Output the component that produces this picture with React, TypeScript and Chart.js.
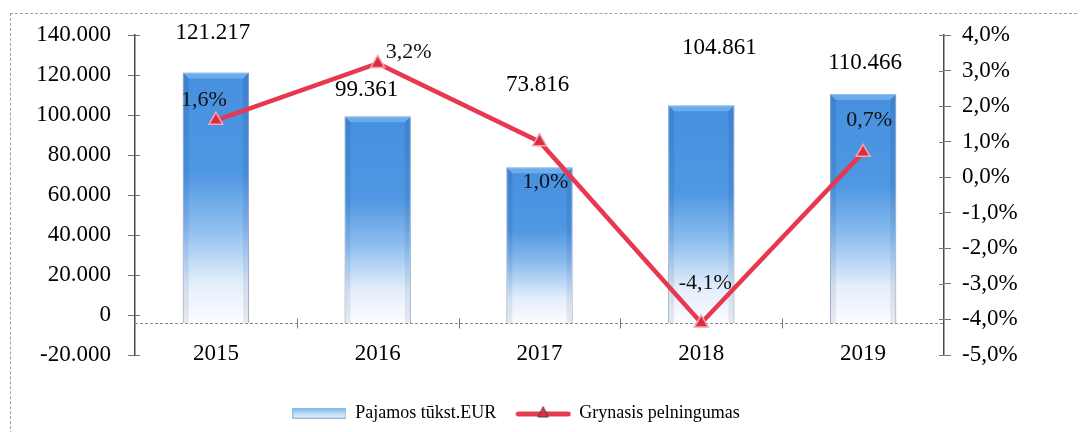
import React, { useEffect, useRef } from 'react';
import { Chart, registerables } from 'chart.js';

Chart.register(...registerables);

// ---- data ----
const years = ['2015', '2016', '2017', '2018', '2019'];
const revenue = [121217, 99361, 73816, 104861, 110466];
const netMargin = [1.6, 3.2, 1.0, -4.1, 0.7];
const seriesNames = ['Pajamos tūkst.EUR', 'Grynasis pelningumas'];
const leftAxis = { min: -20000, max: 140000, step: 20000 };
const rightAxis = { min: -5, max: 4, step: 1 };
const categoryAxisValue = -4000; // where the category axis crosses the value axis

// label nudges (px) relative to the mark
const barLabelNudge = [[-3, -40], [-11, -26], [-2, -82], [18, -57], [2, -31]];
const lineLabelNudge = [[-12, -20], [31, -11], [6, 41], [4, -40], [6, -32]];

const FONT = '"Liberation Serif", "DejaVu Serif", serif';

function fmtThousands(v: number): string {
  if (v === 0) return '0';
  const sign = v < 0 ? '-' : '';
  const a = Math.abs(Math.round(v));
  const th = Math.floor(a / 1000);
  const rest = a % 1000;
  return `${sign}${th}.${String(rest).padStart(3, '0')}`;
}
function fmtPct(v: number): string {
  const r = Math.round(v * 10) / 10;
  return (r === 0 ? 0 : r).toFixed(1).replace('.', ',') + '%';
}

function makeBarSwatch(): HTMLCanvasElement {
  const c = document.createElement('canvas');
  c.width = 54; c.height = 11;
  const g = c.getContext('2d')!;
  const gr = g.createLinearGradient(0, 0, 0, 11);
  gr.addColorStop(0, '#6fb0ee');
  gr.addColorStop(0.5, '#b9d8f5');
  gr.addColorStop(1, '#e9f2fc');
  g.fillStyle = gr;
  g.fillRect(0.5, 0.5, 53, 10);
  g.strokeStyle = '#9bbbe0';
  g.lineWidth = 1;
  g.strokeRect(0.5, 0.5, 53, 10);
  return c;
}
function makeLineSwatch(): HTMLCanvasElement {
  const c = document.createElement('canvas');
  c.width = 56; c.height = 14;
  const g = c.getContext('2d')!;
  g.strokeStyle = '#e8384f';
  g.lineWidth = 5;
  g.lineCap = 'round';
  g.beginPath();
  g.moveTo(3, 8); g.lineTo(53, 8);
  g.stroke();
  g.beginPath();
  g.moveTo(28, 1); g.lineTo(33, 11); g.lineTo(23, 11); g.closePath();
  g.fillStyle = '#e02f45';
  g.fill();
  g.strokeStyle = '#444';
  g.lineWidth = 1;
  g.stroke();
  return c;
}

export default function App() {
  const ref = useRef<HTMLCanvasElement | null>(null);

  useEffect(() => {
    if (!ref.current) return;
    const barSwatch = makeBarSwatch();
    const lineSwatch = makeLineSwatch();

    const barFill = (ctx: any) => {
      const chart = ctx.chart;
      const { chartArea, scales } = chart;
      if (!chartArea || ctx.type !== 'data' || !scales.y) return '#4a93e0';
      const v = ctx.raw as number;
      const yTop = scales.y.getPixelForValue(v);
      const yBot = scales.y.getPixelForValue(categoryAxisValue);
      const gr = chart.ctx.createLinearGradient(0, yTop, 0, yBot);
      gr.addColorStop(0, '#4690df');
      gr.addColorStop(0.4, '#4f97e2');
      gr.addColorStop(0.62, '#8dbdee');
      gr.addColorStop(0.84, '#e3eefb');
      gr.addColorStop(1, '#fbfcff');
      return gr;
    };

    const baselinePlugin = {
      id: 'baseline',
      beforeDatasetsDraw(chart: any) {
        const { ctx, chartArea, scales } = chart;
        const y = Math.round(scales.y.getPixelForValue(categoryAxisValue)) + 0.5;
        ctx.save();
        ctx.strokeStyle = '#8a8a8a';
        ctx.lineWidth = 1;
        ctx.setLineDash([3, 2]);
        ctx.beginPath();
        ctx.moveTo(chartArea.left, y);
        ctx.lineTo(chartArea.right, y);
        ctx.stroke();
        ctx.setLineDash([]);
        ctx.strokeStyle = '#777';
        const n = years.length;
        for (let i = 0; i < n - 1; i++) {
          const x = Math.round((scales.x.getPixelForValue(i) + scales.x.getPixelForValue(i + 1)) / 2) + 0.5;
          ctx.beginPath();
          ctx.moveTo(x, y - 5);
          ctx.lineTo(x, y + 5);
          ctx.stroke();
        }
        scales.y.ticks.forEach((t: any) => {
          const yy = Math.round(scales.y.getPixelForValue(t.value)) + 0.5;
          ctx.beginPath();
          ctx.moveTo(chartArea.left, yy);
          ctx.lineTo(chartArea.left + 5, yy);
          ctx.stroke();
        });
        scales.y1.ticks.forEach((t: any) => {
          const yy = Math.round(scales.y1.getPixelForValue(t.value)) + 0.5;
          ctx.beginPath();
          ctx.moveTo(chartArea.right - 5, yy);
          ctx.lineTo(chartArea.right, yy);
          ctx.stroke();
        });
        ctx.restore();
      },
    };

    const bevelPlugin = {
      id: 'bevel',
      afterDatasetDraw(chart: any, args: any) {
        if (args.index !== 0) return;
        const { ctx } = chart;
        const meta = chart.getDatasetMeta(0);
        ctx.save();
        meta.data.forEach((el: any) => {
          const w = el.width;
          const l = el.x - w / 2;
          const r = el.x + w / 2;
          const t = el.y;
          const b = el.base;
          const bv = 6;
          ctx.beginPath();
          ctx.moveTo(l, t); ctx.lineTo(r, t); ctx.lineTo(r - bv, t + bv); ctx.lineTo(l + bv, t + bv); ctx.closePath();
          ctx.fillStyle = 'rgba(140,195,245,0.55)';
          ctx.fill();
          const sg = ctx.createLinearGradient(0, t, 0, b);
          sg.addColorStop(0, 'rgba(25,80,150,0.22)');
          sg.addColorStop(0.7, 'rgba(25,80,150,0.10)');
          sg.addColorStop(1, 'rgba(60,60,80,0.10)');
          ctx.fillStyle = sg;
          ctx.beginPath();
          ctx.moveTo(l, t); ctx.lineTo(l + bv, t + bv); ctx.lineTo(l + bv, b); ctx.lineTo(l, b); ctx.closePath();
          ctx.fill();
          ctx.beginPath();
          ctx.moveTo(r, t); ctx.lineTo(r - bv, t + bv); ctx.lineTo(r - bv, b); ctx.lineTo(r, b); ctx.closePath();
          ctx.fill();
        });
        ctx.restore();
      },
    };

    const labelPlugin = {
      id: 'valueLabels',
      afterDatasetsDraw(chart: any) {
        const { ctx } = chart;
        ctx.save();
        ctx.textAlign = 'center';
        ctx.textBaseline = 'middle';
        ctx.fillStyle = '#000';
        ctx.font = `23px ${FONT}`;
        chart.getDatasetMeta(0).data.forEach((el: any, i: number) => {
          const [dx, dy] = barLabelNudge[i];
          ctx.fillText(fmtThousands(revenue[i]), el.x + dx, el.y + dy);
        });
        ctx.font = `22px ${FONT}`;
        ctx.fillStyle = '#111';
        chart.getDatasetMeta(1).data.forEach((el: any, i: number) => {
          const [dx, dy] = lineLabelNudge[i];
          ctx.fillText(fmtPct(netMargin[i]), el.x + dx, el.y + dy);
        });
        ctx.restore();
      },
    };

    const chart = new Chart(ref.current, {
      type: 'bar',
      data: {
        labels: years,
        datasets: [
          {
            type: 'bar',
            label: seriesNames[0],
            data: revenue,
            yAxisID: 'y',
            base: categoryAxisValue,
            backgroundColor: barFill,
            borderColor: 'rgba(120,150,190,0.7)',
            borderWidth: 1,
            barPercentage: 0.41,
            categoryPercentage: 1,
            order: 2,
          } as any,
          {
            type: 'line',
            label: seriesNames[1],
            data: netMargin,
            yAxisID: 'y1',
            borderColor: '#e8384f',
            borderWidth: 4.5,
            pointStyle: 'triangle',
            pointRadius: 8,
            pointBackgroundColor: '#dd2c42',
            pointBorderColor: '#f2a3ab',
            pointBorderWidth: 1.5,
            tension: 0,
            order: 1,
          } as any,
        ],
      },
      options: {
        responsive: false,
        animation: false,
        layout: { padding: { top: 35, left: 0, right: 48, bottom: 0 } },
        plugins: {
          tooltip: { enabled: false },
          legend: {
            position: 'bottom',
            labels: {
              usePointStyle: true,
              pointStyleWidth: 54,
              color: '#000',
              padding: 20,
              font: { family: FONT, size: 18 },
              generateLabels: () => [
                { text: seriesNames[0], pointStyle: barSwatch, fillStyle: 'rgba(0,0,0,0)', strokeStyle: 'rgba(0,0,0,0)', lineWidth: 0, hidden: false, datasetIndex: 0, fontColor: '#000' },
                { text: seriesNames[1], pointStyle: lineSwatch, fillStyle: 'rgba(0,0,0,0)', strokeStyle: 'rgba(0,0,0,0)', lineWidth: 0, hidden: false, datasetIndex: 1, fontColor: '#000' },
              ] as any,
            },
          },
        },
        scales: {
          x: {
            type: 'category',
            offset: true,
            grid: { display: false, drawTicks: false },
            border: { display: false },
            ticks: { color: '#000', font: { family: FONT, size: 23 }, mirror: true, padding: -13, maxRotation: 0 },
            afterFit: (s: any) => { s.height = 29; },
          },
          y: {
            position: 'left',
            min: leftAxis.min,
            max: leftAxis.max,
            ticks: {
              stepSize: leftAxis.step,
              color: '#000',
              font: { family: FONT, size: 23 },
              padding: 17,
              callback: (v: any) => fmtThousands(Number(v)),
            },
            grid: { drawOnChartArea: false, drawTicks: true, tickLength: 7, color: '#777' },
            border: { display: true, color: '#4a4a4a', width: 1.5 },
            afterFit: (s: any) => { s.width = 135; },
          },
          y1: {
            position: 'right',
            min: rightAxis.min,
            max: rightAxis.max,
            ticks: {
              stepSize: rightAxis.step,
              color: '#000',
              font: { family: FONT, size: 23 },
              padding: 11,
              callback: (v: any) => fmtPct(Number(v)),
            },
            grid: { drawOnChartArea: false, drawTicks: true, tickLength: 7, color: '#777' },
            border: { display: true, color: '#4a4a4a', width: 1.5 },
            afterFit: (s: any) => { s.width = 88; },
          },
        },
      } as any,
      plugins: [baselinePlugin, bevelPlugin, labelPlugin],
    });

    return () => chart.destroy();
  }, []);

  return (
    <div style={{ position: 'absolute', left: 0, top: 0, width: 1080, height: 432, background: '#fff', overflow: 'hidden' }}>
      <div style={{ position: 'absolute', left: 10, top: 13, width: 1066, height: 440, borderTop: '1px dashed #a0a0a0', borderLeft: '1px dashed #a0a0a0' }} />
      <canvas ref={ref} width={1080} height={432} style={{ position: 'absolute', left: 0, top: 0 }} />
    </div>
  );
}
